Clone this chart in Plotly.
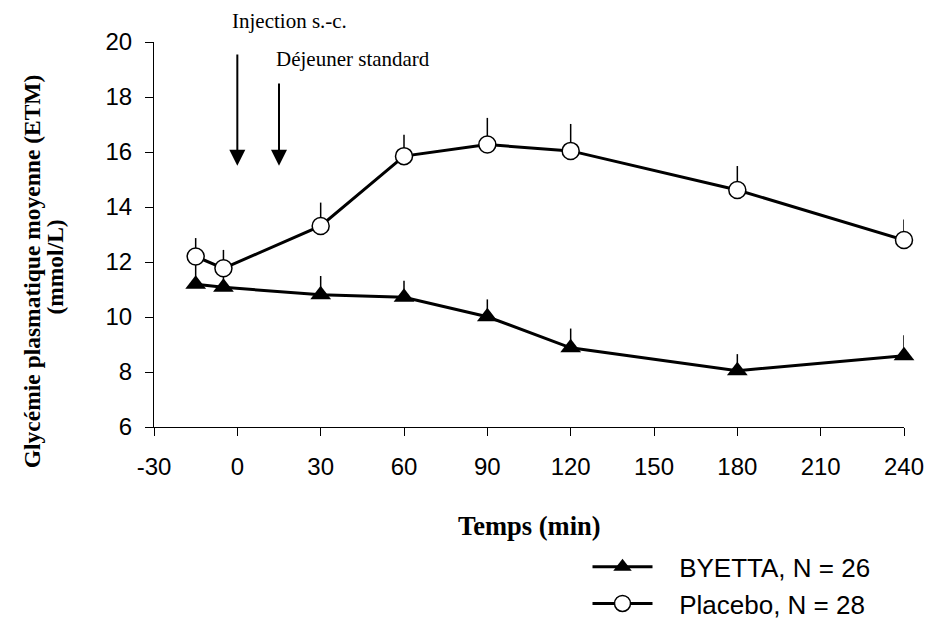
import plotly.graph_objects as go

time_placebo = [-15, -5, 30, 60, 90, 120, 180, 240]
placebo_mean = [12.2, 11.77, 13.31, 15.85, 16.27, 16.04, 14.62, 12.8]
placebo_sem = [0.67, 0.67, 0.85, 0.78, 0.97, 0.98, 0.87, 0.75]

time_byetta = [-15, -5, 30, 60, 90, 120, 180, 240]
byetta_mean = [11.19, 11.08, 10.81, 10.72, 10.01, 8.88, 8.05, 8.59]
byetta_sem = [0.7, 0.6, 0.68, 0.6, 0.63, 0.7, 0.6, 0.75]

x_ticks = [-30, 0, 30, 60, 90, 120, 150, 180, 210, 240]
y_ticks = [6, 8, 10, 12, 14, 16, 18, 20]

event_times = [0, 15]
event_labels = ["Injection s.-c.", "Déjeuner standard"]

series_names = ["BYETTA, N = 26", "Placebo, N = 28"]
x_title = "Temps (min)"
y_title_lines = ["Glycémie plasmatique moyenne (ETM)", "(mmol/L)"]

NBSP = "\u00a0" * 3

fig = go.Figure()

fig.add_trace(go.Scatter(
    x=time_byetta, y=byetta_mean, name=NBSP + series_names[0],
    mode="lines+markers",
    line=dict(color="black", width=3),
    marker=dict(symbol="triangle-up", size=18, color="black", line=dict(width=0)),
    error_y=dict(type="data", symmetric=False, array=byetta_sem,
                 arrayminus=[0] * len(byetta_sem), width=0, thickness=1.5, color="black"),
    cliponaxis=False,
))
fig.add_trace(go.Scatter(
    x=time_placebo, y=placebo_mean, name=NBSP + series_names[1],
    mode="lines+markers",
    line=dict(color="black", width=3),
    marker=dict(symbol="circle", size=17, color="white", line=dict(width=1.5, color="black")),
    error_y=dict(type="data", symmetric=False, array=placebo_sem,
                 arrayminus=[0] * len(placebo_sem), width=0, thickness=1.5, color="black"),
    cliponaxis=False,
))

# event arrows
fig.add_annotation(x=event_times[0], y=15.5, ax=event_times[0], ay=19.6,
                   xref="x", yref="y", axref="x", ayref="y", text="",
                   showarrow=True, arrowhead=2, arrowsize=1.6, arrowwidth=2, arrowcolor="black")
fig.add_annotation(x=event_times[1], y=15.5, ax=event_times[1], ay=18.55,
                   xref="x", yref="y", axref="x", ayref="y", text="",
                   showarrow=True, arrowhead=2, arrowsize=1.6, arrowwidth=2, arrowcolor="black")
fig.add_annotation(x=0.1807, y=1.055, xref="paper", yref="paper", text=event_labels[0],
                   showarrow=False, xanchor="center", yanchor="middle",
                   font=dict(family="Liberation Serif", size=21, color="black"))
fig.add_annotation(x=0.2647, y=0.956, xref="paper", yref="paper", text=event_labels[1],
                   showarrow=False, xanchor="center", yanchor="middle",
                   font=dict(family="Liberation Serif", size=21, color="black"))

# axis titles
fig.add_annotation(x=0.5013, y=-0.257, xref="paper", yref="paper", text="<b>" + x_title + "</b>",
                   showarrow=False, xanchor="center", yanchor="middle",
                   font=dict(family="Liberation Serif", size=26.5, color="black"))
fig.add_annotation(x=-0.1625, y=0.405, xref="paper", yref="paper", text="<b>" + y_title_lines[0] + "</b>",
                   showarrow=False, xanchor="center", yanchor="middle", textangle=-90,
                   font=dict(family="Liberation Serif", size=23.5, color="black"))
fig.add_annotation(x=-0.1325, y=0.4156, xref="paper", yref="paper", text="<b>" + y_title_lines[1] + "</b>",
                   showarrow=False, xanchor="center", yanchor="middle", textangle=-90,
                   font=dict(family="Liberation Serif", size=23.5, color="black"))

fig.update_layout(
    width=928, height=622,
    margin=dict(l=154, r=24, t=42, b=195, autoexpand=False),
    paper_bgcolor="white", plot_bgcolor="white",
    font=dict(family="Liberation Sans", color="black"),
    showlegend=True,
    legend=dict(x=0.578, y=-0.302, xanchor="left", yanchor="top",
                font=dict(family="Liberation Sans", size=26, color="black"),
                bgcolor="rgba(0,0,0,0)", tracegroupgap=0, itemwidth=60),
)
fig.update_xaxes(range=[-30, 240], tickvals=x_ticks, ticktext=[str(v) for v in x_ticks],
                 showgrid=False, zeroline=False, showline=True, linecolor="black", linewidth=1,
                 ticks="outside", ticklen=8, tickcolor="black", automargin=False,
                 ticklabeloverflow="allow", ticklabelstandoff=10,
                 tickfont=dict(family="Liberation Sans", size=24))
fig.update_yaxes(range=[6, 20], tickvals=y_ticks, ticktext=[str(v) for v in y_ticks],
                 showgrid=False, zeroline=False, showline=True, linecolor="black", linewidth=1,
                 ticks="outside", ticklen=8, tickcolor="black", automargin=False,
                 ticklabelstandoff=8,
                 tickfont=dict(family="Liberation Sans", size=24))

fig.write_html("out.html",
               config={"displayModeBar": False},
               post_script="document.body.style.margin='0';document.body.style.overflow='hidden';")
